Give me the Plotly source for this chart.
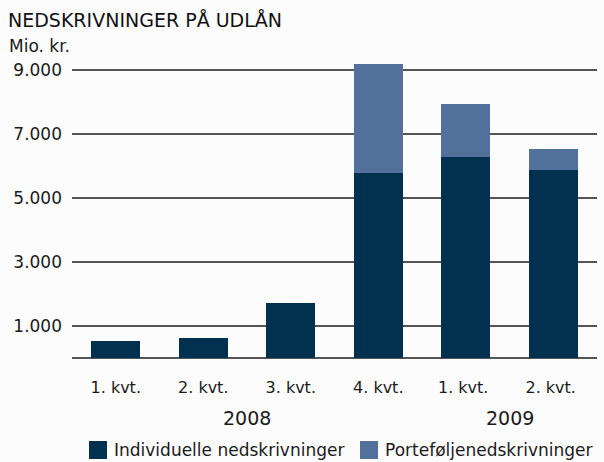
import plotly.graph_objects as go

quarters = ["1. kvt.", "2. kvt.", "3. kvt.", "4. kvt.", "1. kvt. ", "2. kvt. "]
individuelle = [520, 625, 1710, 5780, 6280, 5890]
portefolje = [0, 0, 0, 3400, 1650, 630]
years = ["2008", "2009"]
year_pos = [1.5, 4.5]
y_ticks = [1000, 3000, 5000, 7000, 9000]
series_names = ["Individuelle nedskrivninger", "Porteføljenedskrivninger"]

dark = "#02304F"
light = "#52719A"
FONT = "DejaVu Sans"

fig = go.Figure()
fig.add_trace(go.Bar(x=quarters, y=individuelle, name=series_names[0],
                     marker=dict(color=dark, line=dict(width=0))))
fig.add_trace(go.Bar(x=quarters, y=portefolje, name=series_names[1],
                     marker=dict(color=light, line=dict(width=0))))

W, H = 604, 462
L, R, T, B = 72, 7, 38, 104
ph = H - T - B
pw = W - L - R


def px(x):
    return (x - L) / pw


def py(y):
    return (H - B - y) / ph


annotations = []
for yr, xp in zip(years, year_pos):
    annotations.append(dict(text=yr, x=xp, xref="x", y=py(418), yref="paper",
                            showarrow=False, font=dict(size=19, color="#1a1a1a"),
                            xanchor="center", yanchor="middle"))
annotations.append(dict(text="Mio. kr.", x=px(7), xref="paper", xanchor="left",
                        y=py(46), yref="paper", yanchor="middle",
                        showarrow=False, font=dict(size=17, color="#1a1a1a")))

# manual legend (swatches + labels)
shapes = []
leg_items = [(89, 112, dark, series_names[0]), (360, 383, light, series_names[1])]
for sx, tx, col, name in leg_items:
    shapes.append(dict(type="rect", xref="paper", yref="paper",
                       x0=px(sx), x1=px(sx + 18), y0=py(459), y1=py(441),
                       fillcolor=col, line=dict(width=0)))
    annotations.append(dict(text=name, x=px(tx), xref="paper", xanchor="left",
                            y=py(450), yref="paper", yanchor="middle",
                            showarrow=False, font=dict(size=17, color="#1a1a1a")))

fig.update_layout(
    width=W, height=H,
    margin=dict(l=L, r=R, t=T, b=B, autoexpand=False),
    barmode="stack", bargap=0.44,
    showlegend=False,
    paper_bgcolor="#fcfcfc", plot_bgcolor="#fcfcfc",
    separators=",.",
    font=dict(family=FONT, size=16, color="#1a1a1a"),
    title=dict(text="NEDSKRIVNINGER PÅ UDLÅN", xref="container", x=8 / W, xanchor="left",
               yref="container", y=1 - 20 / H, yanchor="middle",
               font=dict(size=19, color="#111", family=FONT)),
    xaxis=dict(showgrid=False, ticks="", ticklabelstandoff=18, showline=False,
               tickfont=dict(size=16), automargin=False),
    yaxis=dict(range=[0, 10000], tickvals=y_ticks, tickformat=",d", showgrid=True,
               gridcolor="#555", gridwidth=1.5, zeroline=True, zerolinecolor="#555",
               zerolinewidth=1.5, ticks="", ticklabelstandoff=9, tickfont=dict(size=17),
               automargin=False),
    shapes=shapes,
    annotations=annotations,
)
fig.write_html("out.html", config={"displayModeBar": False},
               post_script="document.body.style.margin='0';")
